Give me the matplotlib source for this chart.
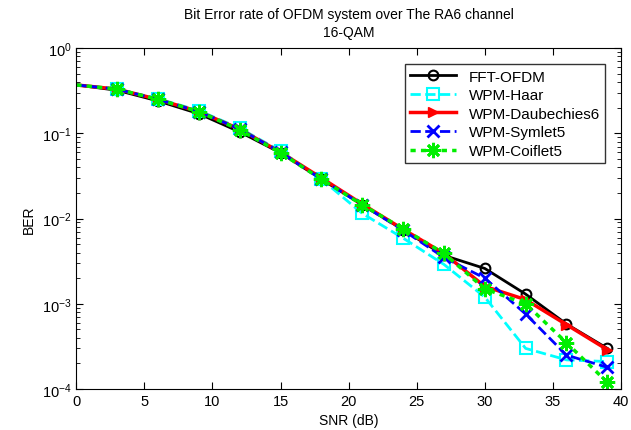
import matplotlib
matplotlib.use("Agg")
import matplotlib.pyplot as plt

plt.rcParams["font.family"] = ["Liberation Sans", "DejaVu Sans"]

snr = [0, 3, 6, 9, 12, 15, 18, 21, 24, 27, 30, 33, 36, 39]

ber_fft = [0.37, 0.32, 0.24, 0.17, 0.104, 0.059, 0.029, 0.0145, 0.0074, 0.0037,
           0.0026, 0.0013, 0.00058, 0.0003]
ber_haar = [0.37, 0.33, 0.255, 0.185, 0.115, 0.062, 0.029, 0.0115, 0.0059, 0.0029,
            0.0012, 0.0003, 0.00022, 0.00021]
ber_db6 = [0.37, 0.33, 0.25, 0.18, 0.112, 0.06, 0.03, 0.0148, 0.0075, 0.0039,
           0.0016, 0.00112, 0.00057, 0.00029]
ber_sym5 = [0.37, 0.33, 0.25, 0.18, 0.112, 0.06, 0.029, 0.0145, 0.0073, 0.0035,
            0.002, 0.00076, 0.00025, 0.00018]
ber_coif5 = [0.37, 0.33, 0.25, 0.18, 0.11, 0.059, 0.029, 0.0145, 0.0076, 0.0039,
             0.0015, 0.001, 0.00035, 0.00012]

# markers are not drawn at SNR = 0
marks = slice(1, None)

fig = plt.figure(figsize=(6.31, 4.31), dpi=100)
ax = fig.add_axes([0.121, 0.095, 0.863, 0.791])

ax.semilogy(snr, ber_fft, color="black", linestyle="-", linewidth=2,
            marker="o", markersize=7, markerfacecolor="none", markeredgewidth=1.5,
            markevery=marks, label="FFT-OFDM")
ax.semilogy(snr, ber_haar, color="cyan", linestyle="--", linewidth=2,
            marker="s", markersize=8, markerfacecolor="none", markeredgewidth=1.5,
            markevery=marks, label="WPM-Haar")
ax.semilogy(snr, ber_db6, color="red", linestyle="-", linewidth=2.5,
            marker=">", markersize=7, markevery=marks, label="WPM-Daubechies6")
ax.semilogy(snr, ber_sym5, color="blue", linestyle="--", linewidth=2,
            marker="x", markersize=9, markeredgewidth=2, markevery=marks,
            label="WPM-Symlet5")
ax.semilogy(snr, ber_coif5, color="#00ee00", linestyle=(0, (1.5, 1.5)),
            linewidth=2.5, marker=(8, 2, 0), markersize=11, markeredgewidth=2,
            markevery=marks, label="WPM-Coiflet5")

ax.set_xlim(0, 40)
ax.set_ylim(1e-4, 1)
ax.set_xticks(range(0, 41, 5))
ax.tick_params(axis="both", which="both", direction="in", top=True, right=True,
               labelsize=10.5)
ax.tick_params(which="major", length=5)
ax.tick_params(which="minor", length=3)

ax.set_xlabel("SNR (dB)", fontsize=10)
ax.set_ylabel("BER", fontsize=10)
ax.set_title("Bit Error rate of OFDM system over The RA6 channel\n16-QAM",
             fontsize=10, linespacing=1.35, pad=9)

leg = ax.legend(loc="upper right", fontsize=11, frameon=True, fancybox=False,
                edgecolor="black", handlelength=3.0, borderpad=0.35,
                labelspacing=0.3, bbox_to_anchor=(0.985, 0.975))
leg.get_frame().set_linewidth(1)

fig.savefig("out.png", dpi=100)
